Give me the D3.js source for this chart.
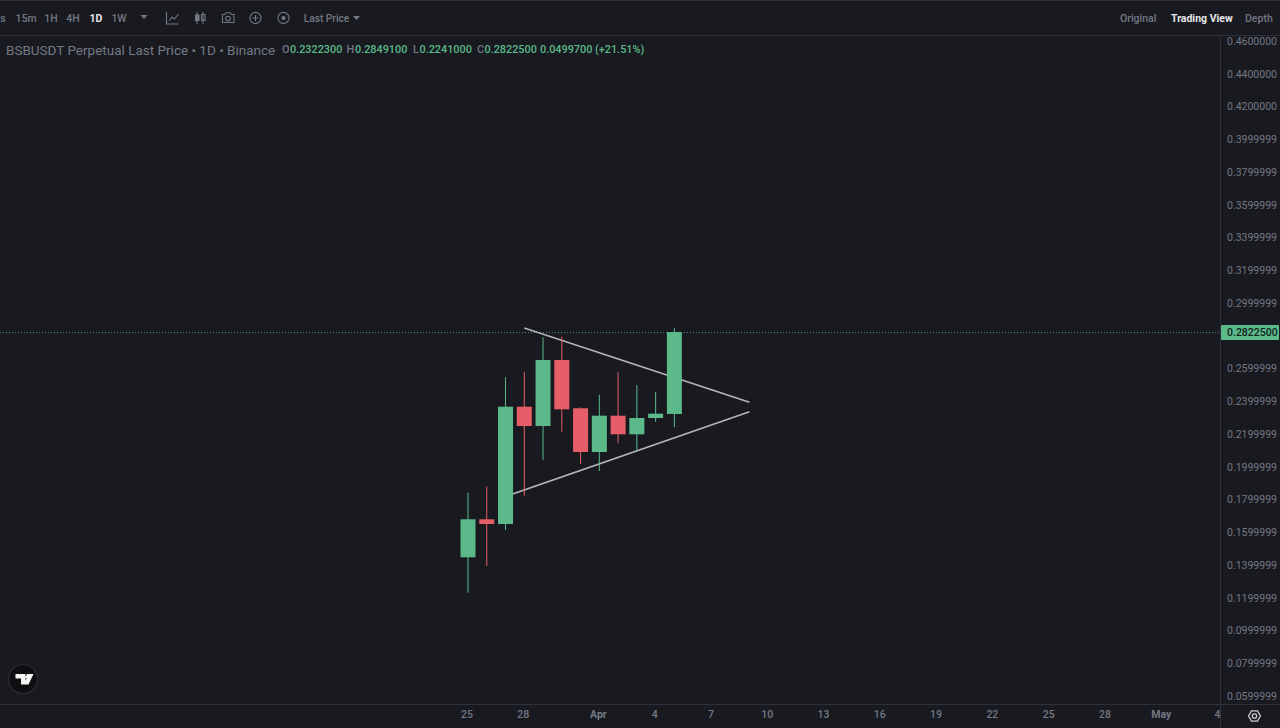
<!DOCTYPE html>
<html><head><meta charset="utf-8">
<script src="https://cdn.jsdelivr.net/npm/d3@7"></script>
<style>
html,body{margin:0;padding:0;background:#181a20;overflow:hidden}
svg{display:block;font-family:Roboto,sans-serif}
</style></head><body><svg id="c" width="1280" height="728"></svg>
<script>
const dates=["2025-03-25","2025-03-26","2025-03-27","2025-03-28","2025-03-29","2025-03-30","2025-03-31","2025-04-01","2025-04-02","2025-04-03","2025-04-04","2025-04-05"];
const opens=[.14470,.16791,.16504,.23667,.22489,.26519,.23570,.20901,.23118,.21982,.22977,.23223];
const highs=[.18416,.18782,.25463,.25805,.27905,.27942,.23631,.24400,.25768,.24992,.24565,.28491];
const lows=[.12308,.13939,.16137,.18232,.20412,.22141,.20168,.19740,.21432,.20980,.22733,.22410];
const closes=[.16791,.16504,.23667,.22489,.26519,.23508,.20901,.23118,.21982,.22977,.23240,.28225];
const priceTicks=[.46,.44,.42,.40,.38,.36,.34,.32,.30,.26,.24,.22,.20,.18,.16,.14,.12,.10,.08,.06];
const priceLabels=["0.4600000","0.4400000","0.4200000","0.3999999","0.3799999","0.3599999","0.3399999","0.3199999","0.2999999","0.2599999","0.2399999","0.2199999","0.1999999","0.1799999","0.1599999","0.1399999","0.1199999","0.0999999","0.0799999","0.0599999"];
const timeTicks=["2025-03-25","2025-03-28","2025-04-01","2025-04-04","2025-04-07","2025-04-10","2025-04-13","2025-04-16","2025-04-19","2025-04-22","2025-04-25","2025-04-28","2025-05-01","2025-05-04"];
const timeLabels=["25","28","Apr","4","7","10","13","16","19","22","25","28","May","4"];
const upperTrend=[["2025-03-28",.28473],["2025-04-09",.23936]];
const lowerTrend=[["2025-03-27",.18183],["2025-04-09",.23362]];
const lastPrice=.28225;
const intervals=["s","15m","1H","4H","1D","1W"];
const ohlcNames=["O","H","L","C"];
const ohlcValues=["0.2322300","0.2849100","0.2241000","0.2822500"];
const changeText="0.0499700 (+21.51%)";

const BG="#181a20",GREEN="#5bb98a",RED="#e65f68",LINE="#2e313b",TXT="#747884",TRI="#b6b6ba";
const svg=d3.select("#c");
svg.append("rect").attr("width",1280).attr("height",728).attr("fill",BG);

const parse=d3.utcParse("%Y-%m-%d");
const x=d3.scaleUtc().domain([parse("2025-03-25"),parse("2025-05-04")]).range([468,1218.5]);
const y=d3.scaleLinear().domain([.46,.06]).range([41,696]);

// frame lines
const frame=svg.append("g").attr("stroke",LINE).attr("stroke-width",1);
[[0,.5,1280,.5],[0,35.5,1280,35.5],[0,704.5,1280,704.5],[1220.5,36,1220.5,728]].forEach(d=>
  frame.append("line").attr("x1",d[0]).attr("y1",d[1]).attr("x2",d[2]).attr("y2",d[3]));

// toolbar
const tb=svg.append("g").attr("font-size",10.5).attr("font-weight",500).attr("fill",TXT).attr("text-anchor","middle");
const intervalX=d3.scaleOrdinal().domain(intervals).range([3,26,51,73,96,119]);
intervals.forEach(t=>{
  tb.append("text").attr("x",intervalX(t)).attr("y",22).text(t)
    .attr("fill",t==="1D"?"#e6e7ea":TXT).attr("font-weight",t==="1D"?700:500);
});
const caret=(px,py,c)=>svg.append("path").attr("d",`M${px-3.5},${py-2}h7l-3.5,4z`).attr("fill",c||TXT);
caret(144,17);
caret(356.5,18);
tb.append("text").attr("x",326.5).attr("y",22).attr("font-size",10.2).text("Last Price");
const ic=svg.append("g").attr("fill","none").attr("stroke",TXT).attr("stroke-width",1.1);
ic.append("path").attr("d","M166.5,12v12h12M169,21l3,-4l2.5,2l4,-5");
ic.append("path").attr("d","M197,12v12M203,12v12").attr("stroke-width",1);
ic.append("rect").attr("x",195.5).attr("y",15).attr("width",3.5).attr("height",5.5).attr("fill",TXT);
ic.append("rect").attr("x",201.5).attr("y",14.5).attr("width",3.5).attr("height",6);
ic.append("path").attr("d","M222.5,14.5h2.5l1,-1.8h4.5l1,1.8h2.5v8h-11.500z");
ic.append("circle").attr("cx",228).attr("cy",18.5).attr("r",2.3);
ic.append("circle").attr("cx",255.500).attr("cy",18).attr("r",5.6);
ic.append("path").attr("d","M252.5,18h6M255.5,15v6");
ic.append("circle").attr("cx",283.500).attr("cy",18).attr("r",5.6);
ic.append("circle").attr("cx",283.500).attr("cy",18).attr("r",1.5).attr("fill",TXT);

const rt=svg.append("g").attr("font-size",10.5).attr("font-weight",500).attr("fill",TXT);
rt.append("text").attr("x",1120).attr("y",22).text("Original");
rt.append("text").attr("x",1171).attr("y",22).attr("fill","#e6e7ea").attr("font-weight",700).text("Trading View");
rt.append("text").attr("x",1245).attr("y",22).text("Depth");

// legend
svg.append("text").attr("x",6).attr("y",55).attr("font-size",13.5).attr("fill",TXT)
  .text("BSBUSDT Perpetual Last Price • 1D • Binance");
const lg=svg.append("g").attr("font-size",10.85).attr("font-weight",500);
const nameX=d3.scaleOrdinal().domain(ohlcNames).range([282,346.5,413,477]);
const valueOff={O:8,H:8.5,L:6.500,C:7.5};
ohlcNames.forEach((n,i)=>{
  lg.append("text").attr("x",nameX(n)).attr("y",53).attr("fill",TXT).text(n);
  lg.append("text").attr("x",nameX(n)+valueOff[n]).attr("y",53).attr("fill",GREEN).text(ohlcValues[i]);
});
lg.append("text").attr("x",540).attr("y",53).attr("fill",GREEN).text(changeText);

// last price dotted line
svg.append("line").attr("x1",0).attr("x2",1220).attr("y1",y(lastPrice)+.5).attr("y2",y(lastPrice)+.5)
  .attr("stroke",GREEN).attr("stroke-opacity",.75).attr("stroke-dasharray","1 2");

// trend lines
const tl=d3.line().x(d=>x(parse(d[0]))).y(d=>y(d[1]));
[upperTrend,lowerTrend].forEach(t=>svg.append("path").attr("d",tl(t)).attr("fill","none").attr("stroke",TRI).attr("stroke-width",1.5));

// candles
const bodyW=15;
const g=svg.append("g");
dates.forEach((d,i)=>{
  const cx=x(parse(d)),c=closes[i]>=opens[i]?GREEN:RED;
  g.append("line").attr("x1",cx).attr("x2",cx).attr("y1",y(highs[i])).attr("y2",y(lows[i])).attr("stroke",c).attr("stroke-width",1);
  const t=y(Math.max(opens[i],closes[i])),b=y(Math.min(opens[i],closes[i]));
  g.append("rect").attr("x",cx-bodyW/2).attr("y",t).attr("width",bodyW).attr("height",b-t).attr("fill",c);
});

// price axis
const ya=svg.append("g").attr("transform","translate(1221,0)")
  .call(d3.axisRight(y).tickValues(priceTicks).tickSize(0).tickPadding(6).tickFormat((d,i)=>priceLabels[i]));
ya.select(".domain").remove();
ya.selectAll("text").attr("fill",TXT).attr("font-size",10.5).attr("font-family","Roboto,sans-serif");

// last price tag
svg.append("rect").attr("x",1221).attr("y",y(lastPrice)-7).attr("width",58).attr("height",15).attr("fill",GREEN).attr("rx",1);
svg.append("text").attr("x",1227).attr("y",y(lastPrice)+4.2).attr("font-size",10.5).attr("font-weight",500).attr("fill","#10231a").text("0.2822500");

// time axis
const xa=svg.append("g").attr("transform","translate(-1.5,705)")
  .call(d3.axisBottom(x).tickValues(timeTicks.map(parse)).tickSize(0).tickPadding(6).tickFormat((d,i)=>timeLabels[i]));
xa.select(".domain").remove();
xa.selectAll("text").attr("fill",TXT).attr("font-size",10.5).attr("font-family","Roboto,sans-serif")
  .attr("font-weight",(d,i)=>/[A-Z]/.test(timeLabels[i])?700:500);

// settings icon
svg.append("path").attr("d",d3.line()(d3.range(6).map(k=>[1254.5+6*Math.cos(k*Math.PI/3),716+6*Math.sin(k*Math.PI/3)]))+"Z")
  .attr("fill","none").attr("stroke","#c9cbd1").attr("stroke-width",1.3);
svg.append("circle").attr("cx",1254.5).attr("cy",716).attr("r",2.2).attr("fill","none").attr("stroke","#c9cbd1").attr("stroke-width",1.3);

// TV logo
svg.append("circle").attr("cx",23).attr("cy",679).attr("r",14.500).attr("fill","#0d0e10").attr("stroke","#2c2e33").attr("stroke-width",1.2);
svg.append("path").attr("fill","#f4f4f4").attr("d","M15.500,674h10v10.500h-4.500v-6h-5.500zM27,674h6.500l-5,10.500h-5l3.200,-6.500h-1.700z");
</script></body></html>
